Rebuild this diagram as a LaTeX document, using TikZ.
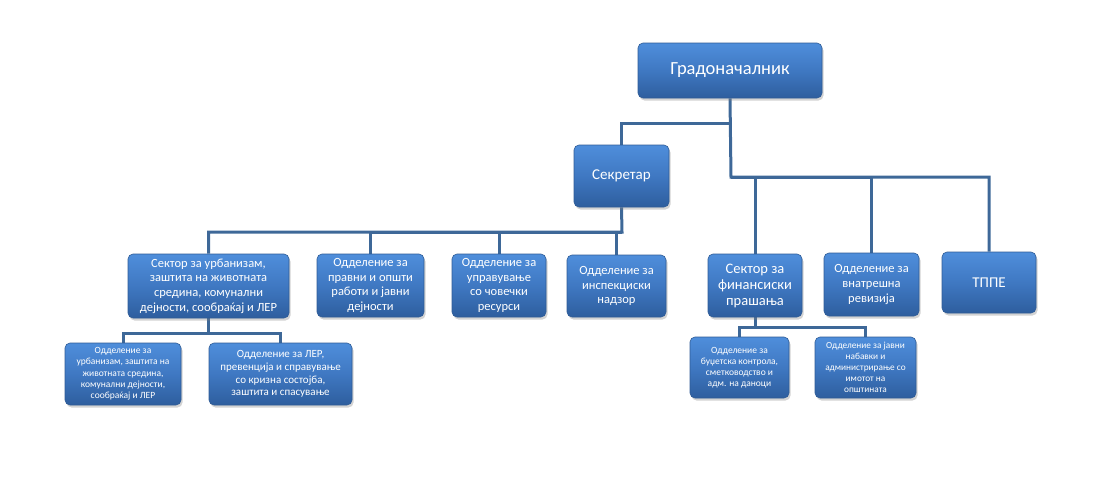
\documentclass[tikz,border=0pt]{standalone}
\usepackage{fontspec}
\setmainfont{Carlito}
\usetikzlibrary{shadows}
\pgfdeclarelayer{background}
\pgfsetlayers{background,main}
\definecolor{boxtop}{HTML}{4F8EDB}
\definecolor{boxmid}{HTML}{3F78C2}
\definecolor{boxbot}{HTML}{2E5E9E}
\definecolor{boxedge}{HTML}{2F5C96}
\definecolor{linecol}{HTML}{3E6898}
\tikzset{
  orgbox/.style={draw=boxedge, line width=0.6pt, rounded corners=5pt,
    top color=boxtop, bottom color=boxbot, middle color=boxmid,
    text=white, align=center, inner sep=2pt,
    drop shadow={opacity=0.35, shadow xshift=1.5pt, shadow yshift=-2.5pt}},
  conn/.style={draw=linecol, line width=3pt, line join=miter},
}
\begin{document}
\begin{tikzpicture}[x=1pt,y=-1pt]
\useasboundingbox (0,0) rectangle (1104,496);
% top
\node[orgbox, minimum width=184pt, minimum height=55pt, font=\fontsize{18.5}{20}\selectfont] (grad) at (730,70.5) {Градоначалник};
\node[orgbox, minimum width=95pt, minimum height=62pt, font=\fontsize{15}{17}\selectfont] (sek) at (621.5,176) {Секретар};
% second row
\node[orgbox, minimum width=161pt, minimum height=64pt, font=\fontsize{12.5}{14.6}\selectfont] (urb) at (208.5,286) {Сектор за урбанизам,\\заштита на животната\\средина, комунални\\дејности, сообраќај и ЛЕР};
\node[orgbox, minimum width=107pt, minimum height=63pt, font=\fontsize{12.5}{14.6}\selectfont] (prav) at (370.5,285.5) {Одделение за\\правни и општи\\работи и јавни\\дејности};
\node[orgbox, minimum width=94pt, minimum height=63pt, font=\fontsize{12.5}{14.6}\selectfont] (upr) at (499,285.5) {Одделение за\\управување\\со човечки\\ресурси};
\node[orgbox, minimum width=99pt, minimum height=62pt, font=\fontsize{12.5}{14.6}\selectfont] (insp) at (616.5,286) {Одделение за\\инспекциски\\надзор};
\node[orgbox, minimum width=94pt, minimum height=63pt, font=\fontsize{14.5}{16}\selectfont] (fin) at (755,285.5) {Сектор за\\финансиски\\прашања};
\node[orgbox, minimum width=95pt, minimum height=63pt, font=\fontsize{12.5}{14.6}\selectfont] (vnat) at (871.5,284.5) {Одделение за\\внатрешна\\ревизија};
\node[orgbox, minimum width=94pt, minimum height=61pt, font=\fontsize{15}{17}\selectfont] (tppe) at (989,282.5) {ТППЕ};
% third row
\node[orgbox, minimum width=116pt, minimum height=62pt, font=\fontsize{9.5}{11.3}\selectfont] (urba) at (123,374) {Одделение за\\урбанизам, заштита на\\животната средина,\\комунални дејности,\\сообраќај и ЛЕР};
\node[orgbox, minimum width=143pt, minimum height=62pt, font=\fontsize{11}{12.8}\selectfont] (ler) at (280.5,374) {Одделение за ЛЕР,\\превенција и справување\\со кризна состојба,\\заштита и спасување};
\node[orgbox, minimum width=99pt, minimum height=61pt, font=\fontsize{9.5}{11.2}\selectfont] (bud) at (739.5,367.5) {Одделение за\\буџетска контрола,\\сметководство и\\адм. на даноци};
\node[orgbox, minimum width=101pt, minimum height=61pt, font=\fontsize{9.3}{11}\selectfont] (jav) at (865.5,367.5) {Одделение за јавни\\набавки и\\администрирање со\\имотот на\\општината};
% connectors
\coordinate (busA) at (731,177);
\coordinate (bra) at (731,123);
\coordinate (busB) at (622,232);
\coordinate (busC) at (208.5,333);
\coordinate (busD) at (755,327);
\begin{pgfonlayer}{background}
\draw[conn] (grad.south) -- (busA) -| (tppe.north);
\draw[conn] (busA) -| (fin.north);
\draw[conn] (busA) -| (vnat.north);
\draw[conn] (bra) -| (sek.north);
\draw[conn] (sek.south) -- (busB) -| (urb.north);
\draw[conn] (busB) -| (prav.north);
\draw[conn] (busB) -| (upr.north);
\draw[conn] (busB) -| (insp.north);
\draw[conn] (urb.south) -- (busC) -| (urba.north);
\draw[conn] (busC) -| (ler.north);
\draw[conn] (fin.south) -- (busD) -| (bud.north);
\draw[conn] (busD) -| (jav.north);
\end{pgfonlayer}
\end{tikzpicture}
\end{document}
